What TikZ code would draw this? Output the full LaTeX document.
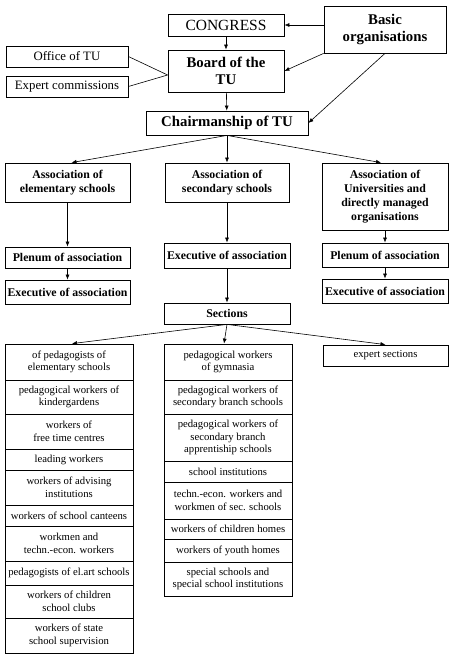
\documentclass[tikz,border=0pt]{standalone}
\usepackage{fontspec}
\setmainfont{Liberation Serif}
\usetikzlibrary{arrows.meta}
\begin{document}
\begin{tikzpicture}[x=1pt,y=-1pt,
  box/.style={draw,line width=0.8pt,inner sep=1pt,align=center},
  big/.style={box,font=\fontsize{14.8}{17}\selectfont\bfseries},
  bigr/.style={box,font=\fontsize{15.5}{17}\selectfont},
  side/.style={box,font=\fontsize{12.8}{14}\selectfont},
  head/.style={box,font=\fontsize{11.8}{14}\selectfont\bfseries},
  cell/.style={box,font=\fontsize{10.7}{12.7}\selectfont,minimum width=128pt},
  arr/.style={line width=0.6pt,-{Latex[length=5pt,width=4pt]}},
  ln/.style={line width=0.6pt}]
\useasboundingbox (0,0) rectangle (455,659);
% top level
\node[bigr,minimum width=116pt,minimum height=22pt] (congress) at (226,25) {CONGRESS};
\node[big,minimum width=116pt,minimum height=42pt] (board) at (226,71) {Board of the\\TU};
\node[big,minimum width=162pt,minimum height=24pt] (chair) at (227,123) {Chairmanship of TU};
\node[big,minimum width=122pt,minimum height=47pt] (basic) at (385,29.5) {Basic\\organisations};
\node[side,minimum width=122pt,minimum height=21pt] (office) at (67,56.5) {Office of TU};
\node[side,minimum width=122pt,minimum height=21pt] (expert) at (67,86.5) {Expert commissions};
% associations
\node[head,minimum width=125pt,minimum height=39pt] (assocE) at (67.5,182.5) {Association of\\elementary schools};
\node[head,minimum width=124pt,minimum height=39pt] (assocS) at (227,182.5) {Association of\\secondary schools};
\node[head,minimum width=126pt,minimum height=67pt] (assocU) at (385,196.5) {Association of\\Universities and\\directly managed\\organisations};
\node[head,minimum width=125pt,minimum height=21pt] (plenE) at (67.5,257.5) {Plenum of association};
\node[head,minimum width=125pt,minimum height=24pt] (execE) at (67.5,292) {Executive of association};
\node[head,minimum width=126pt,minimum height=25pt] (execS) at (227,255.5) {Executive of association};
\node[head,minimum width=126pt,minimum height=21pt] (sections) at (227,313.5) {Sections};
\node[head,minimum width=126pt,minimum height=24pt] (plenU) at (385,255) {Plenum of association};
\node[head,minimum width=126pt,minimum height=24pt] (execU) at (385,291) {Executive of association};
\node[cell,minimum width=125pt,minimum height=21pt] (expsec) at (385.5,355.5) {expert sections};
% left column
\node[cell,minimum height=36pt] (l1) at (69,362) {of pedagogists of\\elementary schools};
\node[cell,minimum height=34pt] (l2) at (69,397) {pedagogical workers of\\kindergardens};
\node[cell,minimum height=35pt] (l3) at (69,431.5) {workers of\\free time centres};
\node[cell,minimum height=21pt] (l4) at (69,459.5) {leading workers};
\node[cell,minimum height=35pt] (l5) at (69,487.5) {workers of advising\\institutions};
\node[cell,minimum height=21pt] (l6) at (69,515.5) {workers of school canteens};
\node[cell,minimum height=35pt] (l7) at (69,543.5) {workmen and\\techn.-econ. workers};
\node[cell,minimum height=24pt] (l8) at (69,573) {pedagogists of el.art schools};
\node[cell,minimum height=33pt] (l9) at (69,601.5) {workers of children\\school clubs};
\node[cell,minimum height=35pt] (l10) at (69,635.5) {workers of state\\school supervision};
% centre column
\node[cell,minimum height=36pt] (c1) at (228,362) {pedagogical workers\\of gymnasia};
\node[cell,minimum height=34pt] (c2) at (228,397) {pedagogical workers of\\secondary branch schools};
\node[cell,minimum height=47pt] (c3) at (228,437.5) {pedagogical workers of\\secondary branch\\apprentiship schools};
\node[cell,minimum height=21pt] (c4) at (228,471.5) {school institutions};
\node[cell,minimum height=37pt] (c5) at (228,500.5) {techn.-econ. workers and\\workmen of sec. schools};
\node[cell,minimum height=20pt] (c6) at (228,529) {workers of children homes};
\node[cell,minimum height=23pt] (c7) at (228,550.5) {workers of youth homes};
\node[cell,minimum height=34pt] (c8) at (228,579) {special schools and\\special school institutions};
% connectors
\draw[arr] (congress.east -| basic.west) -- (congress.east);
\draw[arr] (basic.south west) -- (board.east);
\draw[arr] (basic.south) -- (chair.east);
\draw[arr] (congress) -- (board);
\draw[arr] (board) -- (chair);
\draw[ln] (office.east) -- ([yshift=-4pt]board.west);
\draw[ln] (expert.east) -- ([yshift=-4pt]board.west);
\draw[arr] (chair.south) -- ([xshift=4pt]assocE.north);
\draw[arr] (chair.south) -- (assocS.north);
\draw[arr] (chair.south) -- ([xshift=-4pt]assocU.north);
\draw[arr] (assocE) -- (plenE);
\draw[arr] (plenE) -- (execE);
\draw[arr] (assocS) -- (execS);
\draw[arr] (execS) -- (sections);
\draw[arr] (assocU) -- (plenU);
\draw[arr] (plenU) -- (execU);
\draw[arr] (sections.south) -- ([xshift=3pt]l1.north);
\draw[arr] (sections.south) -- ([xshift=-4pt]c1.north);
\draw[arr] (sections.south) -- (expsec.north);
\end{tikzpicture}
\end{document}
